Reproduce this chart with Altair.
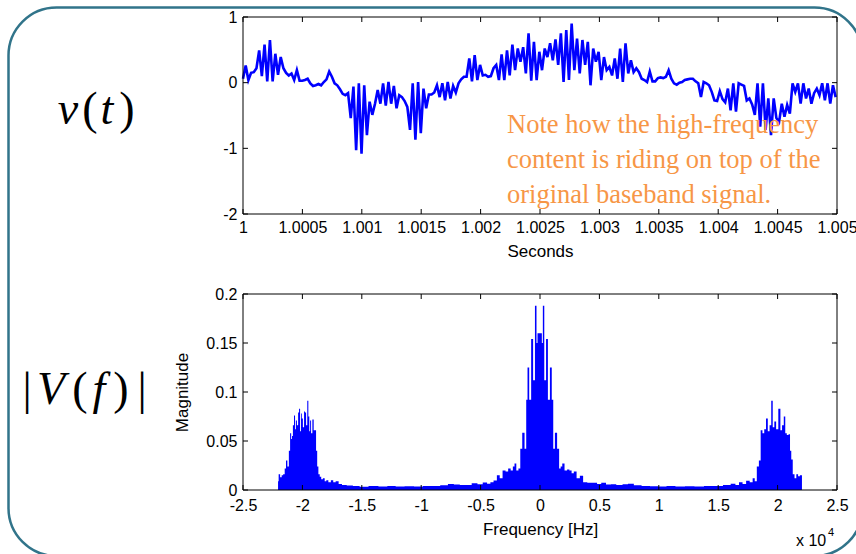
import altair as alt
import pandas as pd

# ---------------- data ----------------
SAMPLE_RATE = 44100          # Hz (spectrum spans +/- 22050 Hz)
T_START = 1.0                # s

# v(t) samples, one per 1/44100 s starting at t = 1 s
signal_v = [
    0.06, 0.26, 0.04, 0.15, 0.16, 0.22, 0.49, 0.10, 0.58, 0.02,
    0.65, 0.02, 0.44, 0.12, 0.39, 0.22, 0.15, 0.11, 0.14, 0.04,
    0.19, 0.03, 0.03, 0.04, 0.06, -0.01, -0.05, -0.04, -0.02, -0.04,
    0.01, 0.05, 0.17, 0.09, -0.01, -0.04, -0.10, -0.17, -0.19, -0.16,
    -0.54, -0.06, -1.03, -0.01, -1.08, -0.04, -0.80, -0.29, -0.49, -0.32,
    -0.11, -0.32, -0.01, -0.35, 0.01, -0.32, -0.05, -0.39, -0.19, -0.22,
    -0.28, -0.37, -0.72, -0.01, -0.87, 0.01, -0.77, -0.09, -0.39, -0.18,
    -0.18, -0.15, -0.04, -0.22, -0.01, -0.27, 0.01, -0.24, -0.05, -0.15,
    -0.01, 0.05, 0.09, 0.09, 0.37, 0.02, 0.42, 0.04, 0.27, 0.11,
    0.12, 0.09, 0.10, 0.22, 0.27, 0.04, 0.43, 0.04, 0.49, 0.11,
    0.58, 0.19, 0.52, 0.32, 0.54, 0.14, 0.75, 0.03, 0.62, 0.04,
    0.47, 0.19, 0.52, 0.39, 0.60, 0.34, 0.66, 0.27, 0.75, 0.01,
    0.80, 0.04, 0.90, 0.19, 0.67, 0.14, 0.65, 0.27, 0.62, -0.04,
    0.52, 0.32, 0.47, 0.04, 0.39, 0.19, 0.24, 0.11, 0.37, 0.06,
    0.52, 0.01, 0.60, 0.14, 0.34, 0.16, 0.22, 0.16, 0.06, 0.04,
    0.01, 0.17, 0.02, 0.02, 0.07, 0.08, 0.07, 0.09, 0.19, 0.06,
    -0.01, -0.03, 0.00, 0.01, 0.04, 0.05, 0.06, 0.06, 0.02, -0.01,
    -0.22, 0.01, -0.01, -0.04, -0.14, -0.27, -0.28, -0.13, -0.25, -0.30,
    -0.09, -0.42, -0.01, -0.44, -0.01, -0.03, -0.05, -0.27, -0.24, -0.33,
    -0.49, -0.01, -0.67, -0.01, -0.72, -0.24, -0.80, -0.24, -0.54, -0.60,
    -0.32, -0.52, -0.34, -0.47, -0.01, -0.14, -0.01, -0.32, -0.01, -0.24,
    -0.09, -0.32, -0.16, -0.09, -0.19, -0.01, -0.27, -0.01, -0.32, -0.04,
    -0.22,
]

# |V(f)| envelope points (Hz, magnitude)
spec_freq = [
    -22050, -21950, -21800, -21690, -21550, -21430, -21330, -21200, -21080, -20990,
    -20900, -20850, -20750, -20660, -20580, -20520, -20400, -20320, -20240, -20150,
    -20080, -20020, -19900, -19820, -19740, -19640, -19540, -19460, -19380, -19320,
    -19220, -19100, -19000, -18900, -18800, -18710, -18600, -18480, -18350, -18200,
    -18050, -17930, -17700, -17510, -17300, -17100, -16800, -16540, -16000, -15500,
    -14870, -14000, -13200, -12500, -11800, -11000, -10200, -9500, -8800, -8000,
    -7500, -7000, -6500, -6000, -5500, -5030, -4610, -4300, -4050, -3770,
    -3490, -3290, -3010, -2790, -2570, -2370, -2200, -2090, -1900, -1730,
    -1590, -1400, -1200, -1120, -980, -840, -650, -510, -340, -250,
    -170, -30, 110, 200, 280, 440, 580, 750, 920, 1060,
    1170, 1340, 1540, 1680, 1800, 1950, 2180, 2380, 2570, 2750,
    2940, 3220, 3490, 3770, 4190, 4610, 5000, 5310, 5800, 6140,
    6700, 7200, 7600, 8200, 8900, 9600, 10300, 11000, 11800, 12600,
    13400, 14200, 15000, 15800, 16300, 16600, 16900, 17200, 17500, 17800,
    18000, 18150, 18350, 18500, 18650, 18800, 18950, 19100, 19250, 19400,
    19530, 19650, 19800, 19950, 20170, 20300, 20450, 20590, 20700, 20850,
    20990, 21100, 21200, 21350, 21500, 21650, 21800, 21950, 22050,
]
spec_mag = [
    0.009, 0.016, 0.013, 0.015, 0.016, 0.022, 0.030, 0.024, 0.040, 0.058,
    0.052, 0.055, 0.066, 0.076, 0.062, 0.071, 0.066, 0.079, 0.083, 0.060,
    0.078, 0.073, 0.064, 0.080, 0.079, 0.066, 0.091, 0.075, 0.060, 0.071,
    0.058, 0.072, 0.061, 0.061, 0.040, 0.024, 0.016, 0.0136, 0.011, 0.012,
    0.009, 0.010, 0.008, 0.010, 0.008, 0.009, 0.006, 0.005, 0.0045, 0.0042,
    0.0034, 0.004, 0.0036, 0.004, 0.0035, 0.0038, 0.0036, 0.0042, 0.004, 0.0048,
    0.0062, 0.0055, 0.005, 0.0052, 0.0068, 0.0058, 0.0077, 0.0065, 0.008, 0.0098,
    0.015, 0.012, 0.020, 0.019, 0.022, 0.020, 0.024, 0.027, 0.020, 0.022,
    0.042, 0.0585, 0.042, 0.092, 0.125, 0.092, 0.154, 0.112, 0.188, 0.150,
    0.160, 0.160, 0.160, 0.150, 0.188, 0.112, 0.154, 0.092, 0.125, 0.092,
    0.042, 0.0585, 0.042, 0.022, 0.024, 0.027, 0.020, 0.021, 0.020, 0.017,
    0.019, 0.012, 0.0145, 0.008, 0.0073, 0.0073, 0.006, 0.0073, 0.0055, 0.0058,
    0.005, 0.0058, 0.0065, 0.0048, 0.0042, 0.0038, 0.0036, 0.004, 0.0035, 0.0038,
    0.0036, 0.004, 0.004, 0.005, 0.0065, 0.005, 0.008, 0.006, 0.0095, 0.008,
    0.012, 0.009, 0.024, 0.030, 0.061, 0.058, 0.062, 0.073, 0.060, 0.066,
    0.091, 0.064, 0.070, 0.062, 0.083, 0.061, 0.066, 0.075, 0.058, 0.056,
    0.057, 0.040, 0.031, 0.016, 0.012, 0.016, 0.014, 0.015, 0.015,
]

time_ticks = [1.0, 1.0005, 1.001, 1.0015, 1.002, 1.0025, 1.003, 1.0035, 1.004, 1.0045, 1.005]
volt_ticks = [-2, -1, 0, 1]
freq_ticks = [-25000, -20000, -15000, -10000, -5000, 0, 5000, 10000, 15000, 20000, 25000]
mag_ticks = [0, 0.05, 0.1, 0.15, 0.2]

note_lines = ["Note how the high-frequency",
              "content is riding on top of the",
              "original baseband signal."]
# math labels, one glyph at a time: (glyph, italic?)
label_top = [("v", True), ("(", False), ("t", True), (")", False)]
label_bottom = [("|", False), ("V", True), ("(", False), ("f", True), (")", False), ("|", False)]
exp_base = "x 10"
exp_power = "4"

# ---------------- layout / style ----------------
W, H = 594, 473          # shared plot width, span from top of upper to bottom of lower plot
TOP_H = 197              # height of upper plot
BOT_TOP = 277            # top of lower plot (relative)
FONT = "Liberation Sans"
SERIF = "Liberation Serif"
BLUE = "#0000FF"
LFS = 16                 # tick label size
TFS = 17                 # axis title size

sig_df = pd.DataFrame({"t": [T_START + n / SAMPLE_RATE for n in range(len(signal_v))],
                       "v": signal_v})
spec_df = pd.DataFrame({"f": spec_freq, "m": spec_mag})
one = pd.DataFrame({"k": [0]})
tt_df = pd.DataFrame({"t": time_ticks})
vt_df = pd.DataFrame({"v": volt_ticks})
ft_df = pd.DataFrame({"f": freq_ticks})
mt_df = pd.DataFrame({"m": mag_ticks})

tx = alt.Scale(domain=[1.0, 1.005], range=[0, W], nice=False, zero=False)
ty = alt.Scale(domain=[-2, 1], range=[TOP_H, 0], nice=False, zero=False)
fx = alt.Scale(domain=[-25000, 25000], range=[0, W], nice=False, zero=False)
my = alt.Scale(domain=[0, 0.2], range=[H, BOT_TOP], nice=False, zero=False)

ax = dict(ticks=False, domain=False, grid=False, labelFont=FONT, labelFontSize=LFS,
          labelColor="black", titleFont=FONT, titleFontSize=TFS, titleColor="black",
          titleFontWeight="normal", labelFlush=False, labelOverlap=False)

line = alt.Chart(sig_df).mark_line(color=BLUE, strokeWidth=2.6).encode(
    x=alt.X("t:Q", scale=tx, axis=alt.Axis(orient="bottom", offset=-(H - TOP_H), values=time_ticks,
                                           labelExpr="'' + datum.value", title="Seconds",
                                           labelPadding=5, titlePadding=8, **ax)),
    y=alt.Y("v:Q", scale=ty, axis=alt.Axis(orient="left", values=volt_ticks,
                                           labelExpr="'' + datum.value", title=None,
                                           labelPadding=6, **ax)),
)

area = alt.Chart(spec_df).mark_area(color=BLUE, interpolate="step", opacity=1).encode(
    x=alt.X("f:Q", scale=fx, axis=alt.Axis(orient="bottom", values=freq_ticks,
                                           labelExpr="'' + (datum.value / 10000)",
                                           title="Frequency [Hz]", labelPadding=7,
                                           titlePadding=8, **ax)),
    y=alt.Y("m:Q", scale=my, axis=alt.Axis(orient="left", values=mag_ticks,
                                           labelExpr="'' + datum.value", title="Magnitude",
                                           labelPadding=6, titlePadding=14, **ax)),
)


def box(y0, y1):
    return alt.Chart(one).mark_rect(fillOpacity=0, stroke="black", strokeWidth=1).encode(
        x=alt.value(0), x2=alt.value(W), y=alt.value(y0), y2=alt.value(y1))


def xticks(df, field, scale, y0, y1):
    return alt.Chart(df).mark_rule(color="black", strokeWidth=1).encode(
        x=alt.X(f"{field}:Q", scale=scale, axis=None), y=alt.value(y0), y2=alt.value(y1))


def yticks(df, field, scale, x0, x1):
    return alt.Chart(df).mark_rule(color="black", strokeWidth=1).encode(
        y=alt.Y(f"{field}:Q", scale=scale, axis=None), x=alt.value(x0), x2=alt.value(x1))


def glyphs(parts, xs, y, size):
    out = []
    for (g, ital), xx in zip(parts, xs):
        out.append(alt.Chart(one).mark_text(
            text=g, font=SERIF, fontStyle="italic" if ital else "normal", fontSize=size,
            align="center", baseline="middle", color="black").encode(
            x=alt.value(xx), y=alt.value(y)))
    return out


TL = 5
layers = [
    alt.Chart(one).mark_rect(fillOpacity=0, stroke="#31748A", strokeWidth=2.5, cornerRadius=48).encode(
        x=alt.value(-234.5), x2=alt.value(619.5), y=alt.value(-9.5), y2=alt.value(539)),
    line,
    area,
    box(0, TOP_H),
    box(BOT_TOP, H),
    xticks(tt_df, "t", tx, 0, TL),
    xticks(tt_df, "t", tx, TOP_H, TOP_H - TL),
    yticks(vt_df, "v", ty, 0, TL),
    yticks(vt_df, "v", ty, W, W - TL),
    xticks(ft_df, "f", fx, BOT_TOP, BOT_TOP + TL),
    xticks(ft_df, "f", fx, H, H - TL),
    yticks(mt_df, "m", my, 0, TL),
    yticks(mt_df, "m", my, W, W - TL),
    alt.Chart(one).mark_text(text=exp_base, font=FONT, fontSize=16, align="left",
                             baseline="alphabetic", color="black").encode(
        x=alt.value(553), y=alt.value(529)),
    alt.Chart(one).mark_text(text=exp_power, font=FONT, fontSize=11, align="left",
                             baseline="alphabetic", color="black").encode(
        x=alt.value(585), y=alt.value(519)),
]
layers += glyphs(label_top, [-175, -153, -136, -116], 93, 46)
layers += glyphs(label_bottom, [-216, -192, -163, -144, -122, -101], 373, 46)
for txt, yy in zip(note_lines, [116, 151, 186]):
    layers.append(alt.Chart(one).mark_text(text=txt, font=SERIF, fontSize=26.5, align="left",
                                           baseline="alphabetic", color="#F79646").encode(
        x=alt.value(264), y=alt.value(yy)))

chart = alt.layer(*layers).resolve_scale(
    x="independent", y="independent"
).resolve_axis(
    x="independent", y="independent"
).properties(
    width=W, height=H,
    autosize=alt.AutoSizeParams(type="none"),
    padding={"left": 243, "top": 17, "right": 856 - 243 - W, "bottom": 554 - 17 - H},
    background="white",
).configure_view(stroke=None)

chart.save("out.html", embed_options={"renderer": "svg", "actions": False})
